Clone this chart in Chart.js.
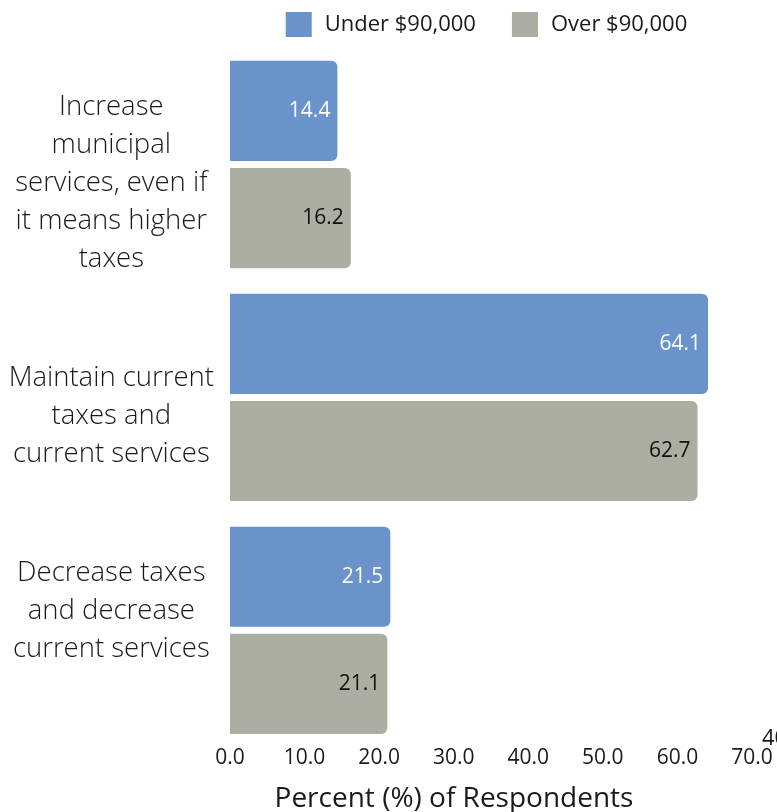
<!DOCTYPE html>
<html>
<head>
<meta charset="utf-8">
<script src="https://cdn.jsdelivr.net/npm/chart.js@4/dist/chart.umd.min.js"></script>
<style>
  html, body { margin: 0; padding: 0; background: #ffffff; }
  #graphique { display: block; }
</style>
</head>
<body>
<canvas id="graphique" width="777" height="812"></canvas>
<script>
// Catégories (libellés sur plusieurs lignes, une ligne vide décale le bloc)
const categories = [
  ["", "Increase", "municipal", "services, even if", "it means higher", "taxes"],
  ["", "Maintain current", "taxes and", "current services"],
  ["Decrease taxes", "and decrease", "current services", ""],
];
const seriesNames = ["Under $90,000", "Over $90,000"];
const valeursMoins90 = [14.4, 64.1, 21.5];
const valeursPlus90 = [16.2, 62.7, 21.1];
const xTicks = [0, 10, 20, 30, 40, 50, 60, 70];
const titreAxe = "Percent (%) of Respondents";

const bleu = "rgb(106, 147, 204)";
const gris = "rgb(171, 174, 160)";
const police = "'Open Sans', sans-serif";
const texte = "#1a1a1a";

// Valeurs écrites à l'intérieur de chaque barre, alignées à droite
const etiquettesValeurs = {
  id: "etiquettesValeurs",
  afterDatasetsDraw(chart) {
    const ctx = chart.ctx;
    ctx.save();
    ctx.font = "21px " + police;
    ctx.textAlign = "right";
    ctx.textBaseline = "middle";
    chart.data.datasets.forEach((ds, i) => {
      const meta = chart.getDatasetMeta(i);
      meta.data.forEach((bar, j) => {
        ctx.fillStyle = i === 0 ? "#ffffff" : "#111111";
        ctx.fillText(ds.data[j].toFixed(1), bar.x - 7, bar.y);
      });
    });
    ctx.restore();
  },
};

// Légende en haut, centrée au-dessus de la zone des barres
const legende = {
  id: "legende",
  afterDraw(chart) {
    const ctx = chart.ctx;
    ctx.save();
    ctx.font = "22px " + police;
    ctx.textBaseline = "middle";
    ctx.textAlign = "left";
    const items = chart.data.datasets.map((ds) => ({
      texte: ds.label,
      couleur: ds.backgroundColor,
      largeur: 26 + 13 + ctx.measureText(ds.label).width,
    }));
    const total = items.reduce((s, it) => s + it.largeur, 0) + 36 * (items.length - 1);
    let x = 486.5 - total / 2;
    items.forEach((it) => {
      ctx.fillStyle = it.couleur;
      ctx.fillRect(x, 12, 26, 25);
      ctx.fillStyle = texte;
      ctx.fillText(it.texte, x + 39, 25);
      x += it.largeur + 36;
    });
    ctx.restore();
  },
};

// Titre de l'axe horizontal et texte coupé au bord droit
const titreX = {
  id: "titreX",
  afterDraw(chart) {
    const ctx = chart.ctx;
    ctx.save();
    ctx.fillStyle = texte;
    ctx.font = "28px " + police;
    ctx.textAlign = "center";
    ctx.textBaseline = "alphabetic";
    ctx.fillText(titreAxe, 454, 807);
    ctx.font = "22px " + police;
    ctx.textAlign = "left";
    ctx.fillText("40", 762, 745);
    ctx.restore();
  },
};

const data = {
  labels: categories,
  datasets: [
    {
      label: seriesNames[0],
      data: valeursMoins90,
      backgroundColor: bleu,
      borderRadius: 6,
      borderSkipped: "start",
      categoryPercentage: 0.92,
      barPercentage: 0.935,
    },
    {
      label: seriesNames[1],
      data: valeursPlus90,
      backgroundColor: gris,
      borderRadius: 6,
      borderSkipped: "start",
      categoryPercentage: 0.92,
      barPercentage: 0.935,
    },
  ],
};

const config = {
  type: "bar",
  data: data,
  options: {
    indexAxis: "y",
    responsive: false,
    devicePixelRatio: 1,
    animation: false,
    layout: { padding: { top: 48, right: 25, bottom: 42, left: 0 } },
    plugins: {
      legend: { display: false },
      tooltip: { enabled: false },
    },
    scales: {
      x: {
        min: 0,
        max: 70,
        grid: { display: false, drawTicks: false },
        border: { display: false },
        afterBuildTicks: (axis) => {
          axis.ticks = xTicks.map((v) => ({ value: v }));
        },
        afterFit: (axis) => {
          axis.paddingLeft = 0;
          axis.paddingRight = 0;
        },
        ticks: {
          padding: -1,
          color: texte,
          font: { family: police, size: 21 },
          callback: (v) => Number(v).toFixed(1),
        },
      },
      y: {
        grid: { display: false, drawTicks: false },
        border: { display: false },
        afterFit: (axis) => {
          axis.width = 230;
          axis.paddingTop = 0;
          axis.paddingBottom = 0;
        },
        ticks: {
          crossAlign: "center",
          padding: 16,
          color: texte,
          font: { family: police, size: 27.5, weight: "300", lineHeight: 1.38 },
        },
      },
    },
  },
  plugins: [etiquettesValeurs, legende, titreX],
};

new Chart(document.querySelector("#graphique"), config);
</script>
</body>
</html>
